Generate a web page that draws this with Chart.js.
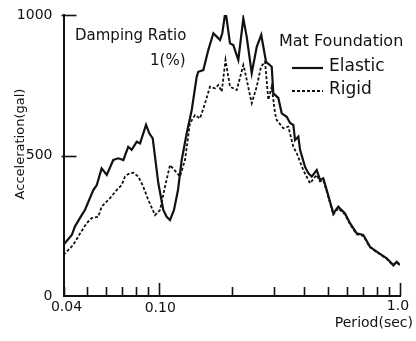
<!DOCTYPE html>
<html>
<head>
<meta charset="utf-8">
<script src="https://cdn.jsdelivr.net/npm/chart.js@4"></script>
<style>
  html, body { margin: 0; padding: 0; background: #fff; }
  canvas { display: block; }
</style>
</head>
<body>
<canvas id="spec" width="416" height="341"></canvas>
<script>
// Acceleration response spectra, damping ratio 1 %
const periodsElastic = [0.0400,0.0433,0.0446,0.0476,0.0491,0.0532,0.0550,0.0576,0.0605,0.0644,0.0676,0.0709,0.0743,0.0768,0.0806,0.0832,0.0881,0.0909,0.0939,0.0991,0.1039,0.1073,0.1108,0.1151,0.1196,0.1239,0.1300,0.1364,0.1430,0.1452,0.1524,0.1599,0.1677,0.1732,0.1788,0.1827,0.1884,0.1967,0.2030,0.2130,0.2234,0.2307,0.2421,0.2540,0.2652,0.2777,0.2932,0.2977,0.3122,0.3226,0.3384,0.3493,0.3605,0.3664,0.3782,0.3844,0.4031,0.4160,0.4298,0.4508,0.4653,0.4802,0.4961,0.5284,0.5543,0.5909,0.6200,0.6609,0.7039,0.7505,0.8004,0.8808,0.9380,0.9691,1.0];
const accelElastic = [182,217,247,288,306,377,395,454,431,484,490,484,531,520,549,543,609,579,561,401,306,282,270,306,377,484,579,662,780,798,804,876,935,923,911,935,1015,899,893,840,988,923,793,887,929,833,816,721,705,650,638,616,609,555,567,520,460,437,425,448,413,419,377,294,318,294,259,223,217,175,158,134,110,122,110];

const periodsRigid = [0.0400,0.0439,0.0469,0.0499,0.0524,0.0558,0.0576,0.0624,0.0665,0.0698,0.0720,0.0743,0.0780,0.0818,0.0858,0.0900,0.0960,0.1007,0.1056,0.1108,0.1219,0.1279,0.1341,0.1407,0.1476,0.1549,0.1624,0.1704,0.1759,0.1817,0.1884,0.1967,0.2098,0.2234,0.2270,0.2421,0.2540,0.2646,0.2750,0.2838,0.2932,0.3026,0.3075,0.3275,0.3436,0.3605,0.3724,0.3966,0.4229,0.4508,0.4653,0.4802,0.4961,0.5284,0.5543,0.5909,0.6200,0.6609,0.7039,0.7505,0.8004,0.8808,0.9380,0.9691,1.0];
const accelRigid = [146,182,223,259,277,282,318,348,377,395,425,434,439,425,389,342,288,306,389,466,425,484,615,644,632,686,745,739,751,727,840,745,733,822,798,686,745,816,834,698,745,650,626,597,603,531,508,448,401,431,408,412,372,290,312,290,255,220,214,173,156,132,108,120,108];

// axis ticks
const periodTicks = [0.04,0.05,0.06,0.07,0.08,0.09,0.1,0.2,0.3,0.4,0.5,0.6,0.7,0.8,0.9,1.0];
const periodLabels = { 0.04: '0.04', 0.1: '0.10', 1.0: '1.0' };
const accelTicks = [0, 500, 1000];

const INK = '#121212';
const FONT = '"DejaVu Sans", sans-serif';

const toPoints = (xs, ys) => xs.map((x, i) => ({ x, y: ys[i] }));

// inward tick marks, tick labels on the period axis, titles and key
const decorations = {
  id: 'decorations',
  afterDraw(chart) {
    const { ctx, chartArea: a, scales: { x, y } } = chart;
    ctx.save();
    ctx.strokeStyle = INK;
    ctx.fillStyle = INK;
    ctx.lineWidth = 1.6;

    // period ticks point up into the plot
    periodTicks.forEach(v => {
      const px = Math.round(x.getPixelForValue(v)) + 0.5;
      const len = (v === 0.1 || v === 1.0) ? 13 : 9;
      ctx.beginPath();
      ctx.moveTo(px, a.bottom);
      ctx.lineTo(px, a.bottom - len);
      ctx.stroke();
    });
    // acceleration ticks point right into the plot
    accelTicks.filter(v => v > 0).forEach(v => {
      const py = Math.round(y.getPixelForValue(v)) + 0.5;
      ctx.beginPath();
      ctx.moveTo(a.left - 2, py);
      ctx.lineTo(a.left + 13, py);
      ctx.stroke();
    });

    // period tick labels
    ctx.font = '14px ' + FONT;
    ctx.textBaseline = 'middle';
    ctx.textAlign = 'center';
    ctx.fillText(periodLabels[0.04], x.getPixelForValue(0.04) + 3, a.bottom + 11);
    ctx.fillText(periodLabels[0.1], x.getPixelForValue(0.1) + 1, a.bottom + 12);
    ctx.fillText(periodLabels[1.0], x.getPixelForValue(1.0) - 2, a.bottom + 10);

    // axis titles
    ctx.font = '14px ' + FONT;
    ctx.textAlign = 'right';
    ctx.fillText('Period(sec)', 413, a.bottom + 27);

    ctx.save();
    ctx.translate(21, 144);
    ctx.rotate(-Math.PI / 2);
    ctx.textAlign = 'center';
    ctx.font = '13px ' + FONT;
    ctx.fillText('Acceleration(gal)', 0, 0);
    ctx.restore();

    // damping note
    ctx.font = '15px ' + FONT;
    ctx.textAlign = 'left';
    ctx.fillText('Damping Ratio', 75, 36);
    ctx.fillText('1(%)', 150, 61);

    // key
    ctx.font = '16px ' + FONT;
    ctx.fillText('Mat Foundation', 279, 42);
    const ds = chart.data.datasets;
    [[ds[0], 67], [ds[1], 90]].forEach(([d, ly]) => {
      ctx.save();
      ctx.lineWidth = d.borderWidth;
      ctx.setLineDash(d.borderDash || []);
      ctx.beginPath();
      ctx.moveTo(292, ly + 1);
      ctx.lineTo(323, ly + 1);
      ctx.stroke();
      ctx.restore();
      ctx.font = '17px ' + FONT;
      ctx.fillText(d.label, 329, ly);
    });
    ctx.restore();
  }
};

new Chart(document.getElementById('spec'), {
  type: 'line',
  data: {
    datasets: [
      {
        label: 'Elastic',
        data: toPoints(periodsElastic, accelElastic),
        borderColor: INK,
        borderWidth: 2.2,
        pointRadius: 0,
        tension: 0,
        fill: false
      },
      {
        label: 'Rigid',
        data: toPoints(periodsRigid, accelRigid),
        borderColor: INK,
        borderWidth: 1.8,
        borderDash: [3, 2],
        pointRadius: 0,
        tension: 0,
        fill: false
      }
    ]
  },
  options: {
    responsive: false,
    animation: false,
    events: [],
    layout: { padding: { left: 0, right: 16, top: 15, bottom: 0 } },
    plugins: { legend: { display: false }, tooltip: { enabled: false } },
    scales: {
      x: {
        type: 'logarithmic',
        min: 0.04,
        max: 1.0,
        afterBuildTicks: s => { s.ticks = periodTicks.map(v => ({ value: v })); },
        afterFit: s => { s.height = 45; },
        grid: { display: false },
        border: { display: true, color: INK, width: 2 },
        ticks: { display: false }
      },
      y: {
        type: 'linear',
        min: 0,
        max: 1000,
        afterBuildTicks: s => { s.ticks = accelTicks.map(v => ({ value: v })); },
        afterFit: s => { s.width = 63.5; },
        grid: { display: false },
        border: { display: true, color: INK, width: 2 },
        ticks: {
          color: INK,
          padding: 3,
          font: { family: FONT, size: 14 },
          callback: v => String(v)
        }
      }
    }
  },
  plugins: [decorations]
});
</script>
</body>
</html>
